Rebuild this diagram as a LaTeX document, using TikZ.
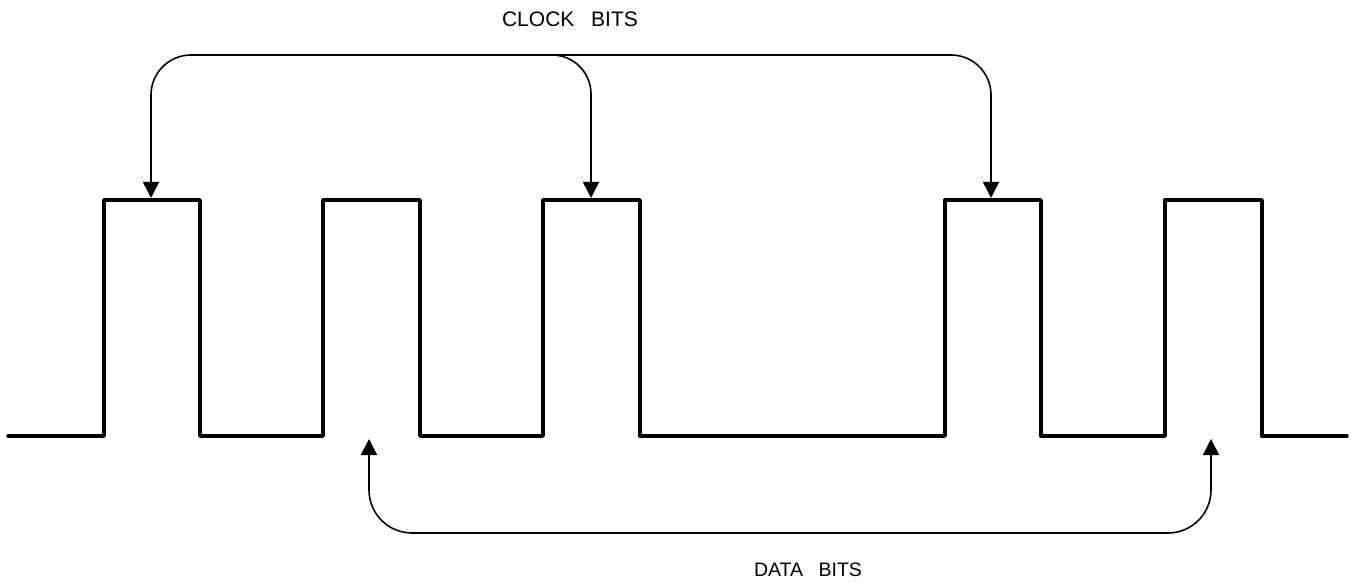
\documentclass[tikz,border=0pt]{standalone}
\usepackage{fontspec}
\setmainfont{Liberation Sans}
\usetikzlibrary{arrows.meta}
\tikzset{
  wave/.style={line width=3.4pt, line join=round, line cap=round},
  pointer/.style={line width=1.6pt, rounded corners=40pt, -{Triangle[width=16pt,length=16pt]}},
  twopointer/.style={line width=1.6pt, rounded corners=42pt, {Triangle[width=16pt,length=16pt]}-{Triangle[width=16pt,length=16pt]}},
  lbl/.style={inner sep=0pt, font=\fontsize{21pt}{24pt}\selectfont}
}
\begin{document}
\begin{tikzpicture}[x=1pt,y=-1pt]
\useasboundingbox (0,0) rectangle (1352,585);
% waveform
\coordinate (w0) at (8,436);
\coordinate (w1) at (1347,436);
\draw[wave] (w0) -- (104,436) -- (104,200) -- (200,200) -- (200,436)
  -- (323,436) -- (323,200) -- (420,200) -- (420,436)
  -- (543,436) -- (543,200) -- (640,200) -- (640,436)
  -- (945,436) -- (945,200) -- (1041,200) -- (1041,436)
  -- (1165,436) -- (1165,200) -- (1262,200) -- (1262,436) -- (w1);
% labels
\node[lbl] (clk) at (570,19.5) {CLOCK\hspace{11pt} BITS};
\node[lbl, font=\fontsize{19.5pt}{22pt}\selectfont] (dat) at (808,570) {DATA\hspace{10pt} BITS};
% clock bit targets
\coordinate (ck1) at (151,198);
\coordinate (ck2) at (591,198);
\coordinate (ck3) at (991,198);
\coordinate (ctop) at (570,55);
\coordinate (cbr) at (500,55);
\draw[twopointer, rounded corners=40pt] (ck1) |- (ctop) -| (ck3);
\draw[pointer, rounded corners=39pt] (cbr) -| (ck2);
% data bit targets
\coordinate (dk1) at (369,439);
\coordinate (dk2) at (1211,439);
\coordinate (dbot) at (800,533);
\draw[twopointer, rounded corners=43pt] (dk1) |- (dbot) -| (dk2);
\end{tikzpicture}
\end{document}
